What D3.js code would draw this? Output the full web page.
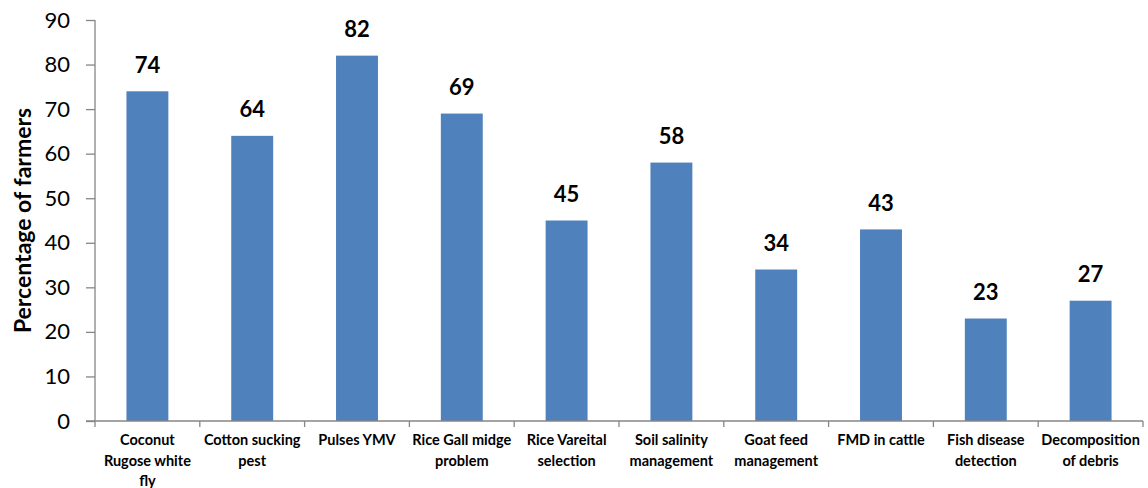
<!DOCTYPE html>
<html><head><meta charset="utf-8">
<script src="https://cdn.jsdelivr.net/npm/d3@7"></script>
<style>body{margin:0;background:#fff;}text{font-family:Lato,"Open Sans",sans-serif;}</style>
</head><body>
<svg id="c" width="1148" height="488"></svg>
<script>
const categories = [
  ["Coconut","Rugose white","fly"],
  ["Cotton sucking","pest"],
  ["Pulses YMV"],
  ["Rice Gall midge","problem"],
  ["Rice Vareital","selection"],
  ["Soil salinity","management"],
  ["Goat feed","management"],
  ["FMD in cattle"],
  ["Fish disease","detection"],
  ["Decomposition","of debris"]
];
const values = [74, 64, 82, 69, 45, 58, 34, 43, 23, 27];
const yTicks = [0,10,20,30,40,50,60,70,80,90];
const yTitle = "Percentage of farmers";

const svg = d3.select("#c");
const m = {left:95, right:5, top:20, bottom:67};
const W = 1148, H = 488;
const x = d3.scaleBand().domain(d3.range(values.length)).range([m.left, W - m.right]).paddingInner(0.6).paddingOuter(0.3);
const y = d3.scaleLinear().domain([0,90]).range([H - m.bottom, m.top]);
const axisColor = "#868686";

// bars
svg.selectAll("rect.bar").data(values).join("rect")
  .attr("class","bar")
  .attr("x",(d,i)=>x(i)).attr("width",x.bandwidth())
  .attr("y",d=>y(d)).attr("height",d=>y(0)-y(d))
  .attr("fill","#4F81BD");

// value labels
svg.selectAll("text.val").data(values).join("text")
  .attr("class","val")
  .attr("x",(d,i)=>x(i)+x.bandwidth()/2).attr("y",d=>y(d)-18.5)
  .attr("text-anchor","middle").attr("font-size",22).attr("font-weight","bold").attr("fill","#000")
  .text(d=>d);

// y axis
const ya = svg.append("g").attr("transform",`translate(${m.left},0)`)
  .call(d3.axisLeft(y).tickValues(yTicks).tickSize(9).tickPadding(16));
ya.select(".domain").attr("stroke",axisColor).attr("stroke-width",1.3).attr("d",`M0,${y(90)}V${y(0)}`);
ya.selectAll(".tick line").attr("stroke",axisColor).attr("stroke-width",1.3);
ya.selectAll(".tick text").attr("font-size",22).attr("fill","#000").attr("font-family","Lato,'Open Sans',sans-serif");

// x axis
const xa = svg.append("g").attr("transform",`translate(0,${y(0)})`);
xa.append("line").attr("x1",m.left-9).attr("x2",W-m.right).attr("y1",0).attr("y2",0)
  .attr("stroke",axisColor).attr("stroke-width",1.3);
const step = x.step();
xa.selectAll("line.xt").data(d3.range(values.length+1)).join("line")
  .attr("class","xt")
  .attr("x1",i=>x(0) + x.bandwidth()/2 - step/2 + i*step)
  .attr("x2",i=>x(0) + x.bandwidth()/2 - step/2 + i*step)
  .attr("y1",0).attr("y2",6).attr("stroke",axisColor).attr("stroke-width",1.3);

const cl = xa.selectAll("text.cat").data(categories).join("text")
  .attr("class","cat")
  .attr("text-anchor","middle").attr("font-size",14.5).attr("font-weight","bold").attr("fill","#000")
  .attr("transform",(d,i)=>`translate(${x(i)+x.bandwidth()/2},0)`);
cl.selectAll("tspan").data(d=>d).join("tspan")
  .attr("x",0).attr("y",(d,j)=>24 + j*20.5).text(d=>d);

// y title
svg.append("text").attr("transform",`translate(31,${(y(0)+y(90))/2}) rotate(-90)`)
  .attr("text-anchor","middle").attr("font-size",23).attr("font-weight","bold").attr("fill","#000")
  .text(yTitle);
</script>
</body></html>
